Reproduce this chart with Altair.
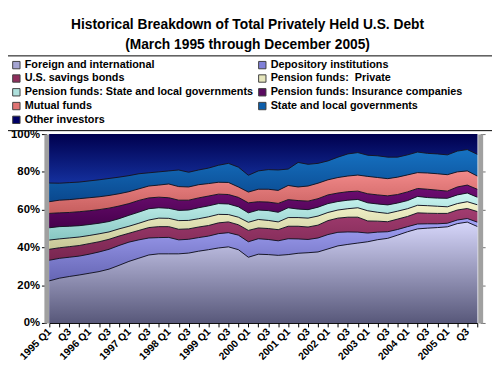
import altair as alt
import pandas as pd

FONT = "Liberation Sans, Arial, sans-serif"

quarters = [f"{y} Q{q}" for y in range(1995, 2006) for q in range(1, 5)]

series_names = [
    "Foreign and international",
    "Depository institutions",
    "U.S. savings bonds",
    "Pension funds:\u00a0 Private",
    "Pension funds: State and local governments",
    "Pension funds: Insurance companies",
    "Mutual funds",
    "State and local governments",
    "Other investors",
]

foreign = [22.3, 23.7, 24.6, 25.4, 26.3, 27.2, 28.5, 30.5, 32.6, 34.3, 36.0, 36.6, 36.6, 36.6, 37.0,
           38.0, 38.8, 39.7, 40.3, 38.8, 34.8, 36.4, 36.2, 35.8, 36.2, 36.9, 37.2, 37.6, 39.2, 40.8,
           41.6, 42.3, 43.0, 44.1, 44.8, 46.5, 48.3, 49.8, 50.2, 50.5, 50.9, 52.6, 53.4, 51.1]
depository = [10.9, 10.5, 10.2, 10.0, 10.1, 10.4, 10.5, 10.5, 10.2, 9.7, 9.0, 8.6, 8.7, 7.4, 7.3,
              7.2, 7.2, 7.6, 7.5, 7.7, 8.2, 8.2, 8.0, 7.7, 8.4, 7.6, 7.0, 7.4, 7.6, 7.2,
              6.6, 5.8, 4.6, 4.0, 3.5, 3.0, 2.7, 2.6, 2.3, 2.0, 1.9, 1.9, 1.9, 2.3]
savings = [5.8, 5.6, 5.6, 5.6, 5.6, 5.4, 5.3, 5.0, 4.7, 5.0, 5.5, 5.8, 5.7, 5.6, 5.5,
           5.6, 5.6, 5.7, 5.7, 5.5, 6.0, 5.7, 5.8, 5.9, 6.6, 6.7, 6.6, 6.8, 7.4, 7.5,
           7.8, 7.9, 6.4, 5.8, 5.3, 5.5, 5.4, 5.9, 5.6, 5.5, 5.2, 5.3, 5.3, 5.6]
pension_private = [4.9, 4.7, 4.6, 4.5, 4.3, 4.2, 3.9, 3.8, 3.7, 3.8, 4.0, 4.5, 4.4, 4.6, 4.5,
                   4.4, 4.6, 4.5, 3.9, 4.0, 4.3, 4.5, 4.3, 4.1, 4.6, 4.6, 4.7, 4.8, 4.3, 4.3,
                   4.5, 5.0, 5.4, 4.7, 4.4, 4.2, 4.1, 4.0, 4.0, 3.8, 3.5, 3.4, 3.6, 3.6]
pension_state = [6.5, 6.5, 6.2, 6.0, 5.8, 5.6, 5.5, 5.4, 5.8, 5.9, 6.0, 5.5, 5.3, 5.4, 5.5,
                 5.8, 5.8, 5.7, 5.6, 5.5, 5.0, 5.0, 5.2, 5.1, 5.2, 4.5, 4.5, 4.7, 4.7, 4.5,
                 4.5, 4.4, 4.2, 4.4, 4.5, 4.3, 4.3, 4.7, 4.3, 4.3, 4.5, 4.6, 4.6, 4.0]
insurance = [7.6, 7.3, 7.3, 7.4, 7.3, 7.2, 7.1, 6.7, 6.2, 6.2, 5.7, 5.6, 5.6, 5.4, 5.2,
             5.2, 5.2, 5.0, 5.0, 5.0, 5.3, 4.4, 4.5, 4.7, 4.3, 4.5, 4.5, 4.5, 4.6, 4.5,
             4.5, 4.4, 4.8, 4.8, 4.8, 4.5, 4.6, 4.2, 4.4, 4.2, 3.8, 4.2, 4.2, 4.2]
mutual = [6.2, 6.7, 6.8, 6.9, 6.9, 6.8, 6.7, 6.5, 6.3, 6.1, 6.3, 6.4, 7.3, 7.2, 7.0,
          7.0, 6.6, 6.3, 6.4, 5.5, 5.7, 6.6, 6.8, 6.9, 7.5, 7.2, 8.0, 8.2, 8.0, 8.2,
          8.3, 8.5, 9.2, 9.2, 9.1, 9.2, 9.0, 8.4, 8.6, 8.7, 8.7, 8.0, 7.5, 7.0]
state_local = [9.9, 9.0, 9.0, 8.8, 8.9, 9.0, 9.0, 8.8, 8.5, 8.0, 7.0, 7.0, 6.9, 8.8, 7.8,
               7.8, 8.2, 9.0, 10.1, 10.5, 8.9, 9.7, 10.4, 10.8, 8.7, 13.0, 11.5, 10.5, 10.0, 10.8,
               11.7, 11.9, 11.2, 11.5, 11.4, 10.6, 10.6, 10.9, 10.4, 10.5, 10.5, 11.0, 11.3, 11.5]
other = [25.9, 26.0, 25.7, 25.4, 24.8, 24.2, 23.5, 22.8, 22.0, 21.0, 20.5, 20.0, 19.5, 19.0, 20.2,
         19.0, 18.0, 16.5, 15.5, 17.5, 21.8, 19.5, 18.8, 19.0, 18.5, 15.0, 16.0, 15.5, 14.2, 12.2,
         10.5, 9.8, 11.2, 11.5, 12.2, 12.2, 11.0, 9.5, 10.2, 10.5, 11.0, 9.0, 8.2, 10.7]

series_values = [foreign, depository, savings, pension_private, pension_state,
                 insurance, mutual, state_local, other]

legend_colors = ["#A4A4D2", "#8080D8", "#8E2E5C", "#E6E6BC", "#AEE0DC",
                 "#5A0A60", "#E07474", "#0C5EAA", "#000066"]
grad_top = ["#D6D6FA", "#A2A2F6", "#A23C70", "#F4F4CC", "#CCF6F2",
            "#700E74", "#F28A8A", "#1672C2", "#00004E"]
grad_bot = ["#58587A", "#6666B4", "#782650", "#C6C696", "#86C6C2",
            "#46004C", "#C65E5E", "#0A488E", "#14309E"]

rows = []
for i, q in enumerate(quarters):
    total = sum(v[i] for v in series_values)
    cum = 0.0
    for k, name in enumerate(series_names):
        share = series_values[k][i] / total * 100
        rows.append({"q": q, "series": name, "order": k, "lo": cum, "hi": cum + share})
        cum += share
df = pd.DataFrame(rows)

label_expr = ("indexof(datum.value, 'Q1') >= 0 ? datum.value : "
              "(indexof(datum.value, 'Q3') >= 0 ? 'Q3' : '')")

x_axis = alt.Axis(title=None, labelExpr=label_expr, labelAngle=-45, labelAlign="right",
                  labelBaseline="middle", labelFont=FONT, labelFontSize=10.5, labelFontWeight="bold",
                  labelColor="black", domainColor="black", tickColor="black", tickSize=4,
                  labelPadding=3, grid=False)
X = alt.X("q:O", sort=quarters, scale=alt.Scale(type="point", padding=0), axis=x_axis)
yscale = alt.Scale(domain=[0, 100], nice=False, zero=True)
left_axis = alt.Axis(title=None, values=[0, 20, 40, 60, 80, 100], labelExpr="datum.value + '%'",
                     labelFont=FONT, labelFontSize=11.5, labelFontWeight="bold", labelColor="black",
                     domainColor="#A0A0A0", domainWidth=5, tickColor="black", tickSize=5,
                     offset=3, labelPadding=2, grid=False)
right_axis = alt.Axis(title=None, orient="right", values=[0, 20, 40, 60, 80, 100], labels=False,
                      domainColor="#A0A0A0", domainWidth=5, tickColor="#707070", tickSize=5,
                      offset=3, grid=False)

pad_spaces = "\u00a0" * 9 + "\u200b"
legend_label_expr = ("datum.label == 'Pension funds: Insurance companies' ? "
                     "datum.label + '" + pad_spaces + "' : datum.label")

legend = alt.Legend(orient="none", legendX=-43, legendY=-80, columns=2, direction="horizontal",
                    gridAlign="each", labelExpr=legend_label_expr,
                    title=None, symbolType="square", symbolSize=56, symbolStrokeColor="#404040",
                    symbolStrokeWidth=1, symbolOpacity=1, labelFont=FONT, labelFontSize=11,
                    labelFontWeight="bold", labelColor="black", labelLimit=400,
                    strokeColor="black", fillColor="white", padding=4, rowPadding=1,
                    columnPadding=2, labelOffset=3)

base = alt.Chart(df).mark_area().encode(
    x=X,
    y=alt.Y("hi:Q", scale=yscale, stack=None, axis=left_axis),
    y2="lo:Q",
    color=alt.Color("series:N", scale=alt.Scale(domain=series_names, range=legend_colors),
                    legend=legend),
    order="order:Q",
)

layers = [base]
for k, name in enumerate(series_names):
    grad = alt.Gradient(gradient="linear", x1=0, y1=0, x2=0, y2=1,
                        stops=[alt.GradientStop(color=grad_top[k], offset=0),
                               alt.GradientStop(color=grad_bot[k], offset=1)])
    layers.append(
        alt.Chart(df).transform_filter(alt.datum.series == name).mark_area(color=grad).encode(
            x=X, y=alt.Y("hi:Q", scale=yscale, stack=None, axis=None), y2="lo:Q")
    )

lines = alt.Chart(df).transform_filter(alt.datum.series != "Other investors").mark_line(
    color="#151525", strokeWidth=1).encode(
    x=X, y=alt.Y("hi:Q", scale=yscale, stack=None, axis=None), detail="series:N")
layers.append(lines)

right = alt.Chart(df).mark_line(opacity=0).encode(
    x=X, y=alt.Y("hi:Q", scale=yscale, stack=None, axis=right_axis), detail="series:N")
layers.append(right)

chart = alt.layer(*layers).resolve_axis(y="independent").properties(
    width=435, height=192,
    autosize=alt.AutoSizeParams(type="none"),
    padding={"left": 42, "top": 125, "right": 15, "bottom": 67},
    title=alt.TitleParams(
        text=["Historical Breakdown of Total Privately Held U.S. Debt",
              "(March 1995 through December 2005)"],
        font=FONT, fontSize=14, fontWeight="bold", color="black", anchor="middle",
        dx=-16, dy=5, lineHeight=20, offset=8),
).configure_view(stroke=None).configure(background="white")

chart.save("out.html", embed_options={"renderer": "svg", "actions": False})
